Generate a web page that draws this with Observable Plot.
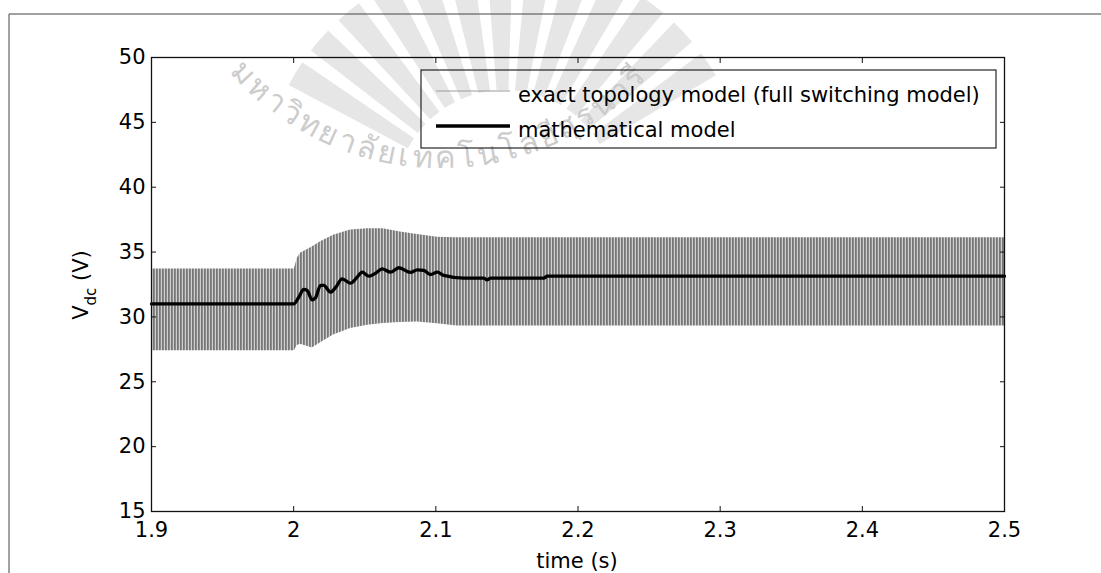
<!DOCTYPE html>
<html><head><meta charset="utf-8">
<script src="https://cdn.jsdelivr.net/npm/d3@7"></script>
<script src="https://cdn.jsdelivr.net/npm/@observablehq/plot@0.6"></script>
<style>body{margin:0;background:#fff}svg{display:block}</style>
</head><body><div id="chart"></div>
<script>
// ---- data ----
const xTicks = [1.9, 2.0, 2.1, 2.2, 2.3, 2.4, 2.5];
const yTicks = [15, 20, 25, 30, 35, 40, 45, 50];
const seriesNames = ["exact topology model (full switching model)", "mathematical model"];
const xLabel = "time (s)";
const yLabelMain = "V", yLabelSub = "dc", yLabelUnit = " (V)";
const watermarkText = "มหาวิทยาลัยเทคโนโลยีสุรนารี";

// switching model: envelope (min / max) of the fast ripple
const envTime  = [1.9,  2.0005, 2.0025, 2.0048, 2.013, 2.019, 2.028, 2.040, 2.052, 2.063, 2.075, 2.087, 2.101, 2.115, 2.5];
const envUpper = [33.7, 33.7,   34.5,   34.9,   35.4,  35.8,  36.3,  36.7,  36.8,  36.8,  36.55, 36.35, 36.15, 36.1,  36.1];
const envLower = [27.4, 27.4,   27.8,   27.9,   27.6,  28.0,  28.6,  29.1,  29.35, 29.5,  29.58, 29.6,  29.47, 29.3,  29.3];

// mathematical (averaged) model
const mathTime = [1.9, 2.0, 2.0036, 2.0071, 2.0095, 2.013, 2.0154, 2.0189, 2.0212, 2.0259, 2.0294, 2.0341, 2.040, 2.0447, 2.0482, 2.0529, 2.0576, 2.0623, 2.0681, 2.074, 2.0822, 2.0869, 2.0916, 2.0962, 2.101, 2.1056, 2.1197, 2.1337, 2.1361, 2.1384, 2.1759, 2.1783, 2.5];
const mathV    = [31.0, 31.0, 31.52, 32.12, 32.04, 31.32, 31.48, 32.43, 32.43, 31.91, 32.25, 32.94, 32.6, 33.07, 33.45, 33.14, 33.37, 33.71, 33.45, 33.79, 33.43, 33.63, 33.58, 33.27, 33.45, 33.2, 32.99, 32.99, 32.86, 32.99, 32.99, 33.14, 33.14];

const envData = envTime.map((t, i) => ({t, hi: envUpper[i], lo: envLower[i]}));
const mathData = mathTime.map((t, i) => ({t, v: mathV[i]}));

const FONT = "DejaVu Sans";
const chart = Plot.plot({
  width: 1101, height: 573,
  marginLeft: 151, marginRight: 97, marginTop: 57, marginBottom: 62,
  x: {domain: [1.9, 2.5]},
  y: {domain: [15, 50]},
  style: {fontFamily: FONT, fontSize: "21px", background: "white", color: "black", overflow: "visible"},
  marks: [
    Plot.areaY(envData, {x: "t", y1: "lo", y2: "hi", fill: "url(#swpat)"}),
    Plot.line(mathData, {x: "t", y: "v", stroke: "black", strokeWidth: 3.3, curve: "monotone-x"}),
    Plot.frame({stroke: "#111", strokeWidth: 1.3}),
    Plot.axisX(xTicks, {anchor: "bottom", tickSize: -5, tickPadding: 16, label: null, tickFormat: d => String(d), stroke: "#111"}),
    Plot.axisX(xTicks, {anchor: "top", tickSize: -5, label: null, fill: "none", stroke: "#111"}),
    Plot.axisY(yTicks, {anchor: "left", tickSize: -5, tickPadding: 11, label: null, tickFormat: d => String(d), stroke: "#111"}),
    Plot.axisY(yTicks, {anchor: "right", tickSize: -5, label: null, fill: "none", stroke: "#111"})
  ]
});
document.getElementById("chart").append(chart);

const svg = d3.select(chart);
// stripe pattern imitating the dense switching ripple
const defs = svg.insert("defs", ":first-child");
const pat = defs.append("pattern").attr("id", "swpat").attr("patternUnits", "userSpaceOnUse")
  .attr("width", 3).attr("height", 8);
pat.append("rect").attr("width", 3).attr("height", 8).attr("fill", "#cfcfcf");
pat.append("rect").attr("width", 1).attr("height", 8).attr("fill", "#767676");
pat.append("rect").attr("x", 1).attr("width", 1).attr("height", 8).attr("fill", "#8a8a8a");

// watermark (behind everything)
const wm = svg.insert("g", "defs + *").attr("pointer-events", "none");
const arc = d3.arc();
for (let k = 0; k < 13; k++) {
  const a0 = (-62 + k * 9.6) * Math.PI / 180;
  wm.append("path").attr("transform", "translate(505,200)")
    .attr("d", arc({innerRadius: 110, outerRadius: 245, startAngle: a0, endAngle: a0 + 6.2 * Math.PI / 180}))
    .attr("fill", "#e6e6e6");
}
const R = 280, cx = 441, cy = -112;
const p = (deg) => [cx + R * Math.cos(deg * Math.PI / 180), cy + R * Math.sin(deg * Math.PI / 180)];
const [sx, sy] = p(139), [ex, ey] = p(40);
defs.append("path").attr("id", "wmarc").attr("d", `M${sx},${sy} A${R},${R} 0 0 0 ${ex},${ey}`);
wm.append("text").attr("font-size", 31).attr("text-anchor", "start")
  .attr("fill", "#cccccc")
  .append("textPath").attr("href", "#wmarc").attr("textLength", 470).attr("lengthAdjust", "spacing")
  .text(watermarkText);

// outer figure border
svg.append("path").attr("d", "M9,573V14H1101").attr("fill", "none").attr("stroke", "#444").attr("stroke-width", 1);

// axis labels
svg.append("text").attr("x", 577).attr("y", 568).attr("text-anchor", "middle")
  .attr("font-family", FONT).attr("font-size", 21).text(xLabel);
const yl = svg.append("text").attr("transform", "translate(88,285) rotate(-90)").attr("text-anchor", "middle")
  .attr("font-family", FONT).attr("font-size", 21);
yl.append("tspan").text(yLabelMain);
yl.append("tspan").attr("font-size", 15).attr("dy", 8).text(yLabelSub);
yl.append("tspan").attr("dy", -8).text(yLabelUnit);

// legend
const lg = svg.append("g");
lg.append("rect").attr("x", 421).attr("y", 70).attr("width", 575).attr("height", 78)
  .attr("fill", "none").attr("stroke", "#111").attr("stroke-width", 1.1);
const legendStyles = [{stroke: "#9a9a9a", w: 1}, {stroke: "black", w: 3.5}];
seriesNames.forEach((name, i) => {
  const y = 91 + i * 35;
  lg.append("line").attr("x1", 436).attr("x2", 510).attr("y1", y).attr("y2", y)
    .attr("stroke", legendStyles[i].stroke).attr("stroke-width", legendStyles[i].w);
  lg.append("text").attr("x", 518).attr("y", y + 10.5).attr("text-anchor", "start")
    .attr("font-family", FONT).attr("font-size", 21).text(name);
});
</script>
</body></html>
